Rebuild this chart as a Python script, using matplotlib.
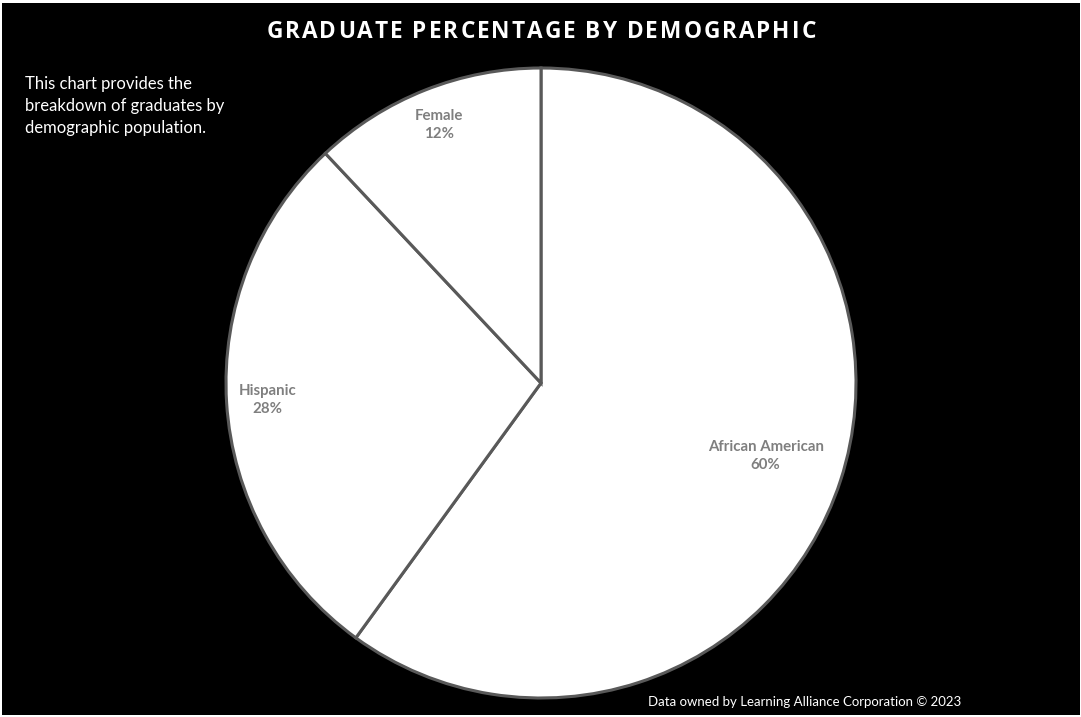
import matplotlib
matplotlib.use("Agg")
import matplotlib.pyplot as plt
from matplotlib.font_manager import FontProperties, findfont
from matplotlib.ft2font import FT2Font
import numpy as np

categories = ["African American", "Hispanic", "Female"]
shares = [60, 28, 12]
label_dist = [0.75, 0.87, 0.88]
title = "GRADUATE PERCENTAGE BY DEMOGRAPHIC"

W, H = 1081, 717
fig = plt.figure(figsize=(W / 100, H / 100), dpi=100)
fig.patch.set_facecolor("white")
# black panel with a thin white rim, like the source export
fig.add_artist(plt.Rectangle((2 / W, 2 / H), (W - 3) / W, (H - 5) / H,
                             transform=fig.transFigure, facecolor="black",
                             edgecolor="none", zorder=0))

cx, cy, r = 541, 383, 315
ax = fig.add_axes([(cx - r) / W, (H - cy - r) / H, 2 * r / W, 2 * r / H])
ax.set_facecolor("none")
wedges, _ = ax.pie(shares, startangle=90, counterclock=False,
                   colors=["white"] * 3,
                   wedgeprops=dict(edgecolor="#595959", linewidth=2.2))
ax.set_xlim(-1, 1)
ax.set_ylim(-1, 1)
ax.set_aspect("equal")
ax.axis("off")

for w, name, val, d in zip(wedges, categories, shares, label_dist):
    ang = np.deg2rad((w.theta1 + w.theta2) / 2)
    ax.text(d * np.cos(ang), d * np.sin(ang), f"{name}\n{val}%",
            ha="center", va="center", fontsize=10.8, fontweight="bold",
            color="#7f7f7f", family="Lato", linespacing=1.4)

# letter-spaced title: place glyphs on their advance widths plus tracking
tsize = 16.3
tprop = FontProperties(family="Open Sans", weight="bold", size=tsize)
ft = FT2Font(findfont(tprop))
ft.set_size(tsize, 100)
tracking = 2.0
advances = [ft.load_char(ord(ch)).linearHoriAdvance / 65536 + tracking for ch in title]
total = sum(advances) - tracking
x = cx - total / 2
for ch, adv in zip(title, advances):
    if ch != " ":
        fig.text(x / W, 1 - 28.5 / H, ch, ha="left", va="center_baseline",
                 color="white", fontproperties=tprop)
    x += adv

fig.text(25 / W, 1 - 76 / H,
         "This chart provides the\nbreakdown of graduates by\ndemographic population.",
         ha="left", va="top", fontsize=12, color="white", family="Lato",
         linespacing=1.45)
fig.text(648 / W, 1 - 702 / H, "Data owned by Learning Alliance Corporation \u00a9 2023",
         ha="left", va="center", fontsize=9.5, color="white", family="Lato")

fig.savefig("out.png", dpi=100, facecolor=fig.get_facecolor())
